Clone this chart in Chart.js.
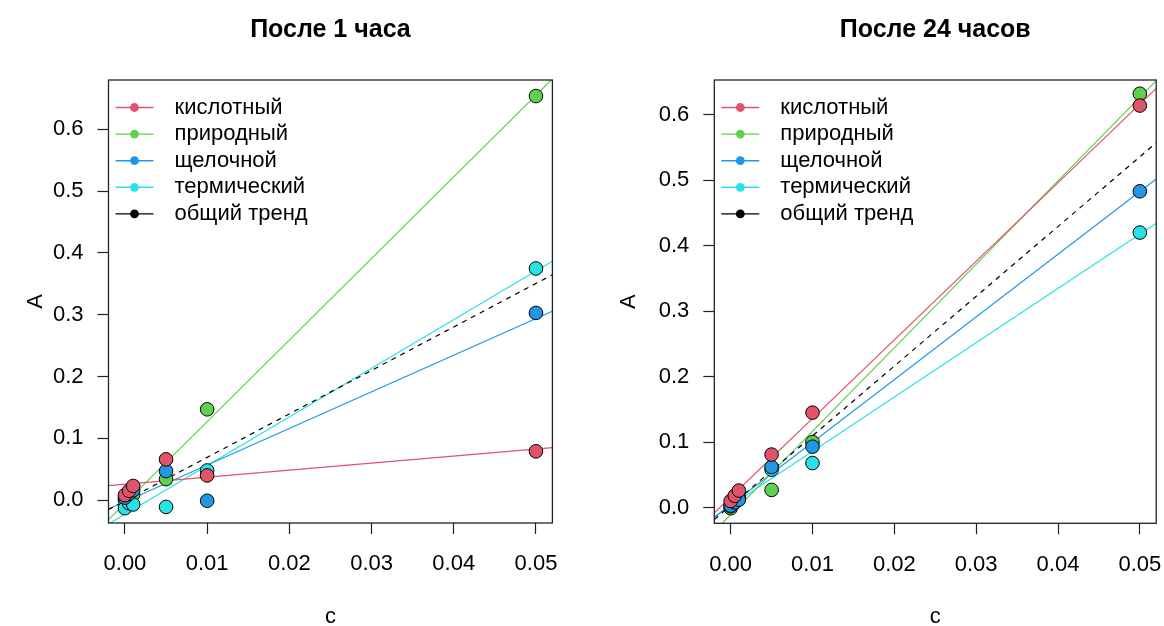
<!DOCTYPE html>
<html>
<head>
<meta charset="utf-8">
<style>
  html, body { margin: 0; padding: 0; background: #fff; }
  #wrap { position: relative; width: 1164px; height: 626px; }
  canvas { position: absolute; top: 0; }
</style>
</head>
<body>
<div id="wrap">
  <canvas id="hour1" width="582" height="626" style="left:0"></canvas>
  <canvas id="hour24" width="582" height="626" style="left:582px"></canvas>
</div>
<script src="https://cdn.jsdelivr.net/npm/chart.js"></script>
<script>
// concentrations (x) shared by every series
const concentrations = [0, 0.0005, 0.001, 0.005, 0.01, 0.05];
const seriesNames = ['кислотный', 'природный', 'щелочной', 'термический'];
const trendName = 'общий тренд';
const seriesColors = ['#DF536B', '#61D04F', '#2297E6', '#28E2E5'];

// after 1 hour
const hour1Acid    = [0.008, 0.015, 0.023, 0.066, 0.040, 0.079];
const hour1Natural = [0.000, 0.004, 0.009, 0.034, 0.147, 0.654];
const hour1Alkali  = [0.004, 0.010, 0.016, 0.047, -0.001, 0.303];
const hour1Thermal = [-0.013, -0.005, -0.007, -0.011, 0.048, 0.375];

// after 24 hours
const hour24Acid    = [0.010, 0.018, 0.026, 0.081, 0.145, 0.614];
const hour24Natural = [-0.001, 0.008, 0.016, 0.027, 0.100, 0.632];
const hour24Alkali  = [0.003, 0.008, 0.012, 0.062, 0.093, 0.483];
const hour24Thermal = [0.002, 0.008, 0.014, 0.058, 0.068, 0.420];

const xTickValues = [0, 0.01, 0.02, 0.03, 0.04, 0.05];
const xTickLabels = ['0.00', '0.01', '0.02', '0.03', '0.04', '0.05'];
const yTickValues = [0, 0.1, 0.2, 0.3, 0.4, 0.5, 0.6];
const yTickLabels = ['0.0', '0.1', '0.2', '0.3', '0.4', '0.5', '0.6'];

Chart.defaults.font.family = '"Liberation Sans", Arial, sans-serif';
Chart.defaults.color = '#000';

function fit(xs, ys) {
  const n = xs.length;
  const mx = xs.reduce((s, v) => s + v, 0) / n;
  const my = ys.reduce((s, v) => s + v, 0) / n;
  let sxy = 0, sxx = 0;
  for (let i = 0; i < n; i++) {
    sxy += (xs[i] - mx) * (ys[i] - my);
    sxx += (xs[i] - mx) * (xs[i] - mx);
  }
  const b = sxy / sxx;
  return { a: my - b * mx, b: b };
}

const boxAndLegend = {
  id: 'boxAndLegend',
  afterDraw(chart) {
    const ctx = chart.ctx, area = chart.chartArea;
    ctx.save();
    ctx.strokeStyle = '#222';
    ctx.lineWidth = 1.3;
    ctx.strokeRect(area.left, area.top, area.right - area.left, area.bottom - area.top);

    const names = seriesNames.concat([trendName]);
    const colors = seriesColors.concat(['#000']);
    ctx.font = '22px "Liberation Sans", Arial, sans-serif';
    ctx.textBaseline = 'middle';
    ctx.textAlign = 'left';
    names.forEach((name, i) => {
      const y = area.top + 27.5 + i * 26.6;
      ctx.strokeStyle = colors[i];
      ctx.lineWidth = 1.4;
      ctx.beginPath();
      ctx.moveTo(area.left + 7, y);
      ctx.lineTo(area.left + 45, y);
      ctx.stroke();
      ctx.fillStyle = colors[i];
      ctx.beginPath();
      ctx.arc(area.left + 26, y, 4.4, 0, Math.PI * 2);
      ctx.fill();
      ctx.fillStyle = '#000';
      ctx.fillText(name, area.left + 66, y);
    });
    ctx.restore();
  }
};

function makeChart(id, title, groups, yMin, yMax, lay) {
  const xMin = -0.002, xMax = 0.052;
  const datasets = [];
  const drawOrder = [0, 3, 1, 2];
  groups.forEach((ys, i) => {
    datasets.push({
      type: 'scatter',
      label: seriesNames[i],
      data: concentrations.map((x, j) => ({ x: x, y: ys[j] })),
      backgroundColor: seriesColors[i],
      borderColor: '#000',
      borderWidth: 1,
      pointRadius: 6.8,
      pointHoverRadius: 6.8,
      order: drawOrder[i]
    });
    const f = fit(concentrations, ys);
    datasets.push({
      type: 'line',
      label: seriesNames[i] + ' fit',
      data: [{ x: xMin, y: f.a + f.b * xMin }, { x: xMax, y: f.a + f.b * xMax }],
      borderColor: seriesColors[i],
      borderWidth: 1.2,
      pointRadius: 0,
      clip: 0,
      order: 20 + i
    });
  });
  const allX = [], allY = [];
  groups.forEach(ys => { concentrations.forEach((x, j) => { allX.push(x); allY.push(ys[j]); }); });
  const ft = fit(allX, allY);
  datasets.push({
    type: 'line',
    label: trendName,
    data: [{ x: xMin, y: ft.a + ft.b * xMin }, { x: xMax, y: ft.a + ft.b * xMax }],
    borderColor: '#000',
    borderWidth: 1.2,
    borderDash: [5, 5],
    pointRadius: 0,
    clip: 0,
    order: 10
  });

  return new Chart(document.getElementById(id), {
    type: 'scatter',
    data: { datasets: datasets },
    options: {
      responsive: false,
      animation: false,
      layout: { padding: { left: 0, right: lay.padRight, top: 0, bottom: 0 } },
      plugins: {
        legend: { display: false },
        tooltip: { enabled: false },
        title: {
          display: true,
          text: title,
          fullSize: false,
          font: { size: 25, weight: 'bold', lineHeight: 1.2 },
          padding: { top: 15, bottom: 35 }
        }
      },
      scales: {
        x: {
          type: 'linear',
          min: xMin,
          max: xMax,
          afterBuildTicks: s => { s.ticks = xTickValues.map(v => ({ value: v })); },
          afterFit: s => { s.height = lay.xHeight; s.paddingLeft = 0; s.paddingRight = 0; },
          ticks: { callback: (v, i) => xTickLabels[i], font: { size: 22 }, padding: 17, maxRotation: 0, autoSkip: false },
          grid: { drawOnChartArea: false, tickLength: 11, color: '#222', tickWidth: 1.2 },
          border: { display: false },
          title: { display: true, text: 'c', font: { size: 22, lineHeight: 1.2 }, padding: { top: 0, bottom: -4 } }
        },
        y: {
          type: 'linear',
          min: yMin,
          max: yMax,
          afterBuildTicks: s => { s.ticks = yTickValues.map(v => ({ value: v })); },
          afterFit: s => { s.width = lay.yWidth; s.paddingTop = 0; s.paddingBottom = 0; },
          ticks: { callback: (v, i) => yTickLabels[i], font: { size: 22 }, padding: 14, autoSkip: false },
          grid: { drawOnChartArea: false, tickLength: 11, color: '#222', tickWidth: 1.2 },
          border: { display: false },
          title: { display: true, text: 'A', font: { size: 22, lineHeight: 1.2 }, padding: { top: lay.yTitlePad, bottom: 0 } }
        }
      }
    },
    plugins: [boxAndLegend]
  });
}

makeChart('hour1', 'После 1 часа',
  [hour1Acid, hour1Natural, hour1Alkali, hour1Thermal],
  -0.037, 0.680,
  { yWidth: 108.5, padRight: 29.6, xHeight: 103, yTitlePad: 23 });

makeChart('hour24', 'После 24 часов',
  [hour24Acid, hour24Natural, hour24Alkali, hour24Thermal],
  -0.024, 0.653,
  { yWidth: 132.3, padRight: 5.9, xHeight: 102.7, yTitlePad: 33.5 });
</script>
</body>
</html>
